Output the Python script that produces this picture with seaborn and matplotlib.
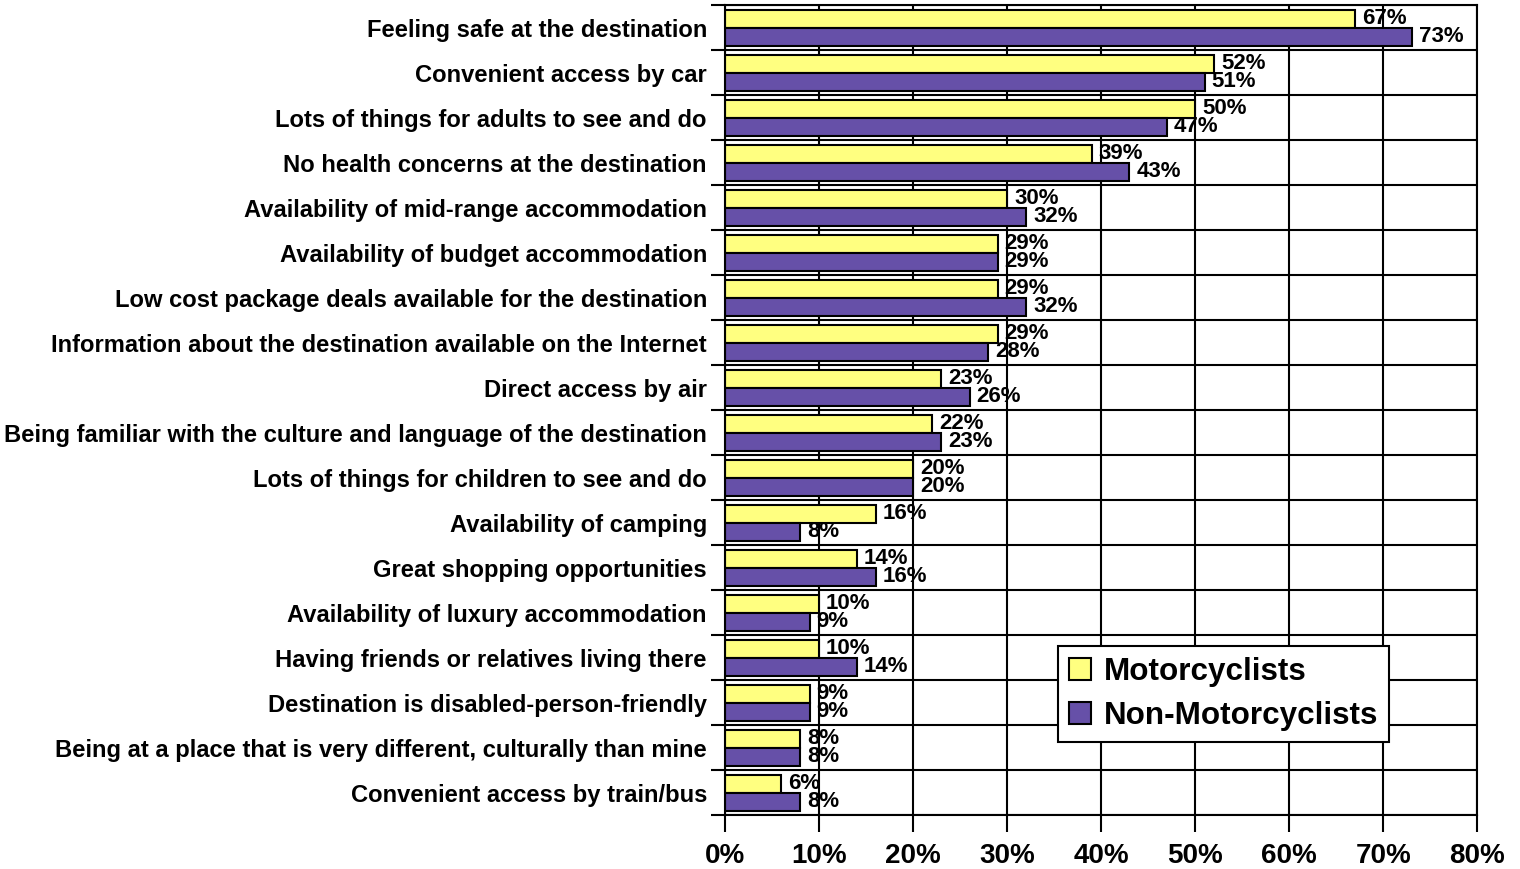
import matplotlib
matplotlib.use("Agg")
import matplotlib.pyplot as plt
import seaborn as sns
import pandas as pd
import numpy as np
from matplotlib.ticker import FixedLocator, PercentFormatter

categories = [
    "Feeling safe at the destination",
    "Convenient access by car",
    "Lots of things for adults to see and do",
    "No health concerns at the destination",
    "Availability of mid-range accommodation",
    "Availability of budget accommodation",
    "Low cost package deals available for the destination",
    "Information about the destination available on the Internet",
    "Direct access by air",
    "Being familiar with the culture and language of the destination",
    "Lots of things for children to see and do",
    "Availability of camping",
    "Great shopping opportunities",
    "Availability of luxury accommodation",
    "Having friends or relatives living there",
    "Destination is disabled-person-friendly",
    "Being at a place that is very different, culturally than mine",
    "Convenient access by train/bus",
]
motorcyclists = [67, 52, 50, 39, 30, 29, 29, 29, 23, 22, 20, 16, 14, 10, 10, 9, 8, 6]
non_motorcyclists = [73, 51, 47, 43, 32, 29, 32, 28, 26, 23, 20, 8, 16, 9, 14, 9, 8, 8]
series_names = ["Motorcyclists", "Non-Motorcyclists"]
x_ticks = [0, 10, 20, 30, 40, 50, 60, 70, 80]

df = pd.DataFrame({
    "category": categories * 2,
    "value": motorcyclists + non_motorcyclists,
    "group": [series_names[0]] * len(categories) + [series_names[1]] * len(categories),
})

sns.set_theme(style="white")
plt.rcParams['font.family'] = ['Liberation Sans', 'DejaVu Sans']
plt.rcParams['font.weight'] = 'bold'
plt.rcParams['text.color'] = 'black'
plt.rcParams['xtick.color'] = 'black'
plt.rcParams['ytick.color'] = 'black'
plt.rcParams['axes.labelcolor'] = 'black'

fig = plt.figure(figsize=(15.2, 8.69), dpi=100)
ax = fig.add_axes([0.477, 0.062, 0.495, 0.932])

sns.barplot(data=df, y="category", x="value", hue="group", orient="h",
            palette=["#FFFF80", "#6650A8"], saturation=1, width=0.8,
            edgecolor="black", linewidth=1.5, ax=ax, dodge=True)

for cont in ax.containers:
    ax.bar_label(cont, fmt="{:.0f}%", padding=5, fontsize=16, fontweight="bold", color="black")

ax.set_xlim(0, 80)
ax.set_ylim(len(categories) - 0.5, -0.5)
ax.set_xticks(x_ticks)
ax.xaxis.set_major_formatter(PercentFormatter(decimals=0))
ax.set_xlabel("")
ax.set_ylabel("")

ax.yaxis.set_minor_locator(FixedLocator(np.arange(-0.5, len(categories), 1.0)))
ax.tick_params(axis="y", which="major", length=0, pad=13, labelsize=17.1, labelcolor="black")
ax.tick_params(axis="y", which="minor", length=10, width=1.5, color="black", left=True)
ax.tick_params(axis="x", which="major", length=12, width=1.5, color="black", bottom=True,
               pad=8, labelsize=20, labelcolor="black")
for lab in ax.get_yticklabels() + ax.get_xticklabels():
    lab.set_fontweight("bold")

ax.grid(False)
ax.grid(True, axis="x", which="major", color="black", linewidth=1.5)
ax.grid(True, axis="y", which="minor", color="black", linewidth=1.5)
ax.set_axisbelow(True)
for s in ax.spines.values():
    s.set_color("black")
    s.set_linewidth(1.5)

leg = ax.legend(loc="upper left", bbox_to_anchor=(0.443, 0.209), frameon=True,
                fancybox=False, shadow=False, prop={"size": 22.6, "weight": "bold"},
                handlelength=0.7, handleheight=0.7, handletextpad=0.4, borderpad=0.35,
                labelspacing=0.45, borderaxespad=0, title=None)
leg.get_frame().set_edgecolor("black")
leg.get_frame().set_linewidth(1.5)
leg.get_frame().set_alpha(1)
for t in leg.get_texts():
    t.set_color("black")

fig.savefig("out.png", dpi=100)
